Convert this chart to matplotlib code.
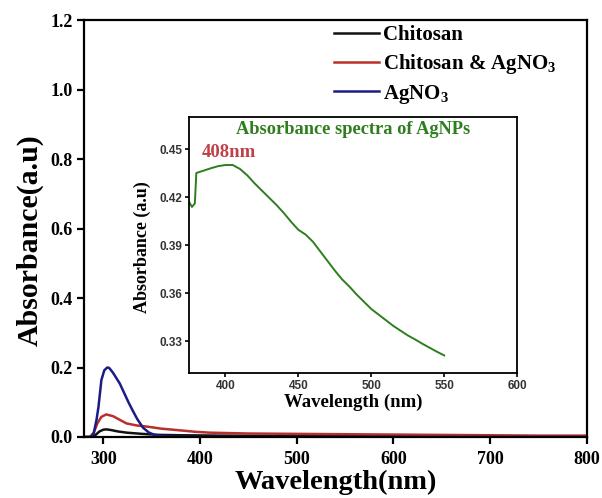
import matplotlib
matplotlib.use('Agg')
import matplotlib.pyplot as plt

plt.rcParams['font.family'] = ['Liberation Serif', 'DejaVu Serif']
plt.rcParams['font.weight'] = 'bold'
plt.rcParams['mathtext.fontset'] = 'custom'
plt.rcParams['mathtext.rm'] = 'Liberation Serif:bold'
plt.rcParams['mathtext.bf'] = 'Liberation Serif:bold'
plt.rcParams['mathtext.it'] = 'Liberation Serif:bold'
plt.rcParams['mathtext.default'] = 'bf'

# main spectra
wl_chitosan = [280, 288, 292, 296, 300, 303, 308, 315, 324, 340, 358, 380, 420, 500, 600, 700, 800]
abs_chitosan = [0.0, 0.0, 0.006, 0.016, 0.021, 0.022, 0.020, 0.016, 0.0125, 0.009, 0.006, 0.005, 0.004, 0.003, 0.003, 0.002, 0.002]

wl_mix = [280, 286, 290, 294, 298, 303, 310, 318, 324, 335, 345, 360, 376, 395, 410, 450, 500, 550, 600, 650, 700, 750, 800]
abs_mix = [0.0, 0.0, 0.012, 0.04, 0.058, 0.065, 0.060, 0.048, 0.039, 0.033, 0.030, 0.024, 0.020, 0.015, 0.0125, 0.010, 0.009, 0.008, 0.007, 0.006, 0.005, 0.004, 0.004]

wl_agno3 = [280, 287, 290, 293, 295, 298, 301, 304, 306, 310, 317, 322, 326, 330, 335, 341, 347, 353, 360, 370, 400, 500, 600, 700, 800]
abs_agno3 = [0.0, 0.0, 0.01, 0.05, 0.087, 0.164, 0.192, 0.200, 0.199, 0.185, 0.154, 0.124, 0.100, 0.078, 0.052, 0.027, 0.013, 0.006, 0.003, 0.001, 0.0, 0.0, 0.0, 0.0, 0.0]

# inset: AgNPs spectrum
wl_agnp = [375, 377, 379, 380, 385, 390, 395, 400, 405, 410, 415, 420, 425, 430, 435,
           440, 445, 450, 455, 460, 465, 470, 475, 480, 485, 490, 495, 500, 505, 510,
           515, 520, 525, 530, 535, 540, 545, 550]
abs_agnp = [0.417, 0.4138, 0.416, 0.435, 0.4365, 0.438, 0.4393, 0.440, 0.440, 0.4375,
            0.4335, 0.4285, 0.424, 0.4195, 0.415, 0.410, 0.4045, 0.3995, 0.3965, 0.392,
            0.386, 0.380, 0.374, 0.3685, 0.364, 0.359, 0.3545, 0.350, 0.3465, 0.343,
            0.3395, 0.3365, 0.3335, 0.331, 0.3283, 0.3258, 0.3233, 0.321]

labels = ['Chitosan', 'Chitosan & AgNO$_3$', 'AgNO$_3$']
colors = ['#111111', '#b8302c', '#1c1c86']

fig = plt.figure(figsize=(6.02, 4.98), dpi=100)
ax = fig.add_axes([0.1395, 0.1225, 0.8355, 0.837])

ax.plot(wl_chitosan, abs_chitosan, color=colors[0], lw=1.8, label=labels[0])
ax.plot(wl_mix, abs_mix, color=colors[1], lw=1.8, label=labels[1])
ax.plot(wl_agno3, abs_agno3, color=colors[2], lw=1.8, label=labels[2])

ax.set_xlim(280, 800)
ax.set_ylim(0, 1.2)
ax.set_xticks([300, 400, 500, 600, 700, 800])
ax.set_yticks([0.0, 0.2, 0.4, 0.6, 0.8, 1.0, 1.2])
ax.set_yticklabels(['0.0', '0.2', '0.4', '0.6', '0.8', '1.0', '1.2'])
ax.tick_params(direction='out', length=5, width=1.6, labelsize=13, pad=3)
ax.tick_params(axis='x', pad=5)
for s in ax.spines.values():
    s.set_linewidth(1.6)
ax.set_xlabel('Wavelength(nm)', fontsize=20.5, fontweight='bold', va='center')
ax.xaxis.set_label_coords(0.5, -0.11)
ax.set_ylabel('Absorbance(a.u)', fontsize=21.5, fontweight='bold', va='center')
ax.yaxis.set_label_coords(-0.107, 0.472)

ax.legend(loc='upper left', bbox_to_anchor=(0.497, 0.988), frameon=False,
          fontsize=15, handlelength=2.15, handletextpad=0.2, labelspacing=0.32,
          borderpad=0, borderaxespad=0)

# inset
ins = fig.add_axes([0.314, 0.251, 0.545, 0.514])
ins.plot(wl_agnp, abs_agnp, color='#2e7d1f', lw=1.4)
ins.set_xlim(375, 600)
ins.set_ylim(0.31, 0.47)
ins.set_xticks([400, 450, 500, 550, 600])
ins.set_yticks([0.33, 0.36, 0.39, 0.42, 0.45])
ins.tick_params(direction='out', length=3, width=1.2, labelsize=8.5, pad=2)
for lab in ins.get_xticklabels() + ins.get_yticklabels():
    lab.set_family(['Liberation Sans', 'DejaVu Sans'])
    lab.set_fontweight('bold')
    lab.set_color('#333333')
for s in ins.spines.values():
    s.set_linewidth(1.3)
ins.set_xlabel('Wavelength (nm)', fontsize=13.5, fontweight='bold', labelpad=1)
ins.set_ylabel('Absorbance (a.u)', fontsize=13, fontweight='bold', va='center')
ins.yaxis.set_label_coords(-0.143, 0.49)
ins.text(0.5, 0.95, 'Absorbance spectra of AgNPs', transform=ins.transAxes,
         ha='center', va='center', fontsize=13.2, fontweight='bold', color='#2e7d1f')
ins.text(384, 0.4477, '408nm', ha='left', va='center', fontsize=13.5,
         fontweight='bold', color='#c0404a')

fig.savefig('out.png', dpi=100)
